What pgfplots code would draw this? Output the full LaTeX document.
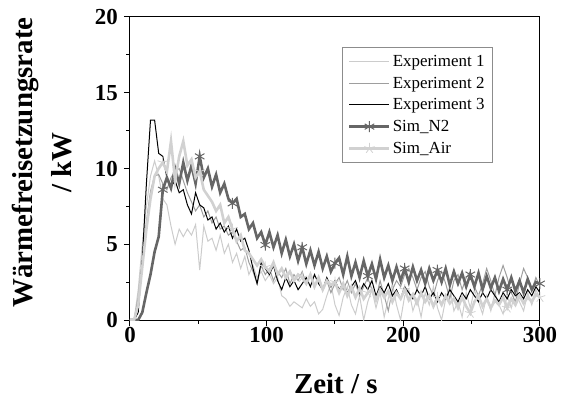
\documentclass[border=0pt]{standalone}
\usepackage{pgfplots}
\pgfplotsset{compat=1.18}
\usepackage{pgfplotstable}
\usepackage{fontspec}
\setmainfont{Liberation Serif}

\definecolor{expone}{gray}{0.80}
\definecolor{exptwo}{gray}{0.62}
\definecolor{expthree}{gray}{0.0}
\definecolor{simntwo}{gray}{0.40}
\definecolor{simair}{gray}{0.82}

% t [s], HRR [kW]
\pgfplotstableread{
t y
0 0
3 0
6 2
9 5
12 7.5
15 9.5
18 10.5
21 9.5
24 8.0
27 7.6
30 6.2
33 5.0
36 6.0
39 5.5
42 6.0
45 5.6
48 6.3
51 3.3
54 6.2
57 5.2
60 5.4
63 4.6
66 5.6
69 4.4
72 5.0
75 3.8
78 4.4
81 3.4
84 4.2
87 3.0
90 3.6
93 2.8
96 3.2
99 2.6
102 3.0
105 2.4
108 2.8
111 1.6
114 1.4
117 0.9
120 1.2
123 1.0
126 0.8
129 1.4
132 0.9
135 1.2
138 0.4
141 0.7
144 1.6
147 2.4
150 1.0
153 0.3
156 1.5
159 2.2
162 1.0
165 0.4
168 1.6
171 0.0
174 1.2
177 2.0
180 0.8
183 1.8
186 0.2
189 1.4
192 2.4
195 1.0
198 0.0
201 1.6
204 2.0
207 0.6
210 1.4
213 0.2
216 1.8
219 1.0
222 2.2
225 0.8
228 0.0
231 1.4
234 2.2
237 0.6
240 1.2
243 0.2
246 1.8
249 0.8
252 2.0
255 1.2
258 0.4
261 1.6
264 0.6
267 1.8
270 1.0
273 0.4
276 1.6
279 0.8
282 2.0
285 1.2
288 0.6
291 1.8
294 1.0
297 2.0
300 1.4
}\expone

\pgfplotstableread{
t y
0 0
3 0
6 1.5
9 4.0
12 6.5
15 8.5
18 9.5
21 9.6
24 9.0
27 8.6
30 9.4
33 9.8
36 10.0
39 9.2
42 8.4
45 7.8
48 7.2
51 7.6
54 6.8
57 7.2
60 6.4
63 6.8
66 6.0
69 6.2
72 5.6
75 5.8
78 5.2
81 4.6
84 4.8
87 3.8
90 3.2
93 2.4
96 3.6
99 3.0
102 3.4
105 2.6
108 3.2
111 2.8
114 3.4
117 2.4
120 3.0
123 2.6
126 3.2
129 2.4
132 3.0
135 2.2
138 2.8
141 2.0
144 2.6
147 1.8
150 2.4
153 2.8
156 2.0
159 2.6
162 1.8
165 2.4
168 1.6
171 2.2
174 2.8
177 2.0
180 1.4
183 2.6
186 1.6
189 0.6
192 2.0
195 2.6
198 2.2
201 3.0
204 3.4
207 2.8
210 2.0
213 2.8
216 3.2
219 2.2
222 1.6
225 2.6
228 3.2
231 2.4
234 1.4
237 2.6
240 3.0
243 2.0
246 2.8
249 3.2
252 2.2
255 1.6
258 2.4
261 3.4
264 2.6
267 1.6
270 2.8
273 3.6
276 2.8
279 1.8
282 1.2
285 2.4
288 3.4
291 2.8
294 2.0
297 2.8
300 2.2
}\exptwo

\pgfplotstableread{
t y
0 0
3 0
6 0.5
9 4
12 9
15 13.2
18 13.2
21 11.0
24 10.8
27 9.4
30 8.8
33 9.2
36 8.4
39 8.6
42 7.6
45 7.0
48 8.4
51 7.6
54 7.4
57 6.6
60 6.8
63 6.0
66 6.4
69 5.8
72 6.2
75 5.4
78 6.0
81 5.2
84 5.4
87 4.6
90 3.4
93 2.4
96 3.8
99 3.4
102 3.0
105 3.6
108 2.6
111 2.0
114 2.8
117 2.2
120 2.6
123 2.0
126 2.4
129 2.8
132 2.2
135 3.0
138 2.4
141 2.0
144 2.8
147 2.2
150 2.6
153 2.0
156 2.4
159 1.8
162 2.2
165 2.6
168 1.8
171 2.4
174 2.0
177 2.6
180 1.6
183 2.2
186 1.8
189 2.4
192 1.6
195 2.0
198 1.4
201 2.2
204 1.8
207 1.4
210 2.0
213 1.6
216 2.2
219 1.4
222 1.8
225 1.2
228 1.8
231 1.4
234 2.0
237 1.6
240 1.2
243 1.8
246 1.4
249 2.0
252 1.6
255 1.2
258 1.8
261 1.4
264 2.0
267 1.6
270 1.2
273 1.8
276 1.4
279 2.0
282 1.6
285 1.8
288 1.4
291 2.0
294 1.6
297 2.2
300 1.8
}\expthree

\pgfplotstableread{
t y
0 0
3 0
6 0
9 0.5
12 1.8
15 3.0
18 4.5
21 5.5
24 8.6
27 9.4
30 8.7
33 10.0
36 9.0
39 10.4
42 9.2
45 10.2
48 9.0
51 10.8
54 9.4
57 10.0
60 8.8
63 9.6
66 8.4
69 9.0
72 8.0
75 7.7
78 8.0
81 6.8
84 7.0
87 6.0
90 6.4
93 5.4
96 5.8
99 4.95
102 5.8
105 4.8
108 5.6
111 4.4
114 5.3
117 4.2
120 5.0
123 3.9
126 4.8
129 3.7
132 4.6
135 3.6
138 4.5
141 3.4
144 4.2
147 3.2
150 3.75
153 4.1
156 3.0
159 4.2
162 2.9
165 3.8
168 2.8
171 3.9
174 2.9
177 3.7
180 2.7
183 4.0
186 2.8
189 3.6
192 2.6
195 3.5
198 2.6
201 3.4
204 2.5
207 3.5
210 2.6
213 3.3
216 2.4
219 3.4
222 2.6
225 3.3
228 2.5
231 3.4
234 2.3
237 3.2
240 2.4
243 3.1
246 2.2
249 3.0
252 2.2
255 3.1
258 2.0
261 2.9
264 2.1
267 2.8
270 1.9
273 2.7
276 2.0
279 2.8
282 1.9
285 2.6
288 1.8
291 2.7
294 2.0
297 2.5
300 2.4
}\simntwo

\pgfplotstableread{
t y
0 0
3 0
6 1.0
9 3.5
12 6.0
15 8.0
18 9.5
21 10.0
24 10.4
27 9.8
30 11.8
33 9.2
36 10.8
39 11.8
42 10.2
45 10.6
48 9.4
51 9.8
54 8.6
57 8.2
60 7.8
63 7.2
66 7.6
69 6.4
72 6.8
75 6.0
78 5.2
81 5.6
84 4.6
87 4.4
90 4.0
93 3.6
96 4.0
99 3.5
102 3.2
105 3.8
108 3.0
111 3.4
114 2.8
117 3.2
120 2.6
123 3.0
126 2.8
129 2.4
132 3.0
135 2.2
138 2.8
141 2.0
144 2.6
147 2.3
150 2.5
153 1.8
156 2.4
159 1.6
162 2.2
165 1.5
168 2.1
171 1.4
174 1.8
177 2.0
180 1.3
183 2.0
186 1.5
189 1.9
192 1.2
195 1.8
198 1.4
201 2.0
204 1.3
207 1.7
210 1.1
213 1.8
216 1.2
219 1.6
222 0.9
225 1.5
228 1.0
231 1.6
234 1.1
237 1.4
240 0.8
243 1.5
246 0.9
249 0.45
252 1.2
255 1.6
258 0.9
261 1.4
264 0.8
267 1.3
270 1.0
273 1.5
276 0.8
279 1.4
282 1.0
285 1.6
288 1.1
291 1.5
294 1.2
297 1.7
300 1.5
}\simair

\begin{document}
\begin{tikzpicture}
\begin{axis}[
    scale only axis,
    width=410bp, height=303bp,
    xmin=0, xmax=300, ymin=0, ymax=20,
    xtick={0,100,200,300}, minor x tick num=1,
    ytick={0,5,10,15,20}, minor y tick num=1,
    tick align=outside, tick pos=left,
    major tick length=6bp, minor tick length=3.5bp,
    axis line style={line width=1bp},
    every tick/.style={black, line width=1bp},
    /pgf/number format/assume math mode=true,
    tick label style={font=\fontsize{23}{23}\selectfont\bfseries, inner sep=0pt},
    xticklabel style={yshift=-1bp},
    yticklabel style={xshift=-6bp},
    xlabel={Zeit / s},
    ylabel={Wärmefreisetzungsrate\\/ kW},
    label style={font=\fontsize{29}{39}\selectfont\bfseries},
    xlabel style={at={(axis description cs:0.502,0)}, anchor=base, yshift=-73bp},
    ylabel style={at={(axis description cs:-0.215,0.52)}, anchor=center, align=center},
    legend style={at={(0.517,0.901)}, anchor=north west, draw=black!45,
        font=\fontsize{17}{17}\selectfont, inner xsep=6bp, inner ysep=6bp,
        row sep=5bp, cells={anchor=west}},
    legend image code/.code={
        \draw[#1, mark indices={2}] plot coordinates {(0bp,0bp) (20bp,0bp) (40bp,0bp)};},
]
\addplot[expone, line width=1bp] table[x=t, y=y] {\expone};
\addlegendentry{Experiment 1}
\addplot[exptwo, line width=1bp] table[x=t, y=y] {\exptwo};
\addlegendentry{Experiment 2}
\addplot[expthree, line width=1bp] table[x=t, y=y] {\expthree};
\addlegendentry{Experiment 3}
\addplot[simntwo, line width=2.6bp, mark=asterisk, mark size=5.5bp,
    mark options={line width=1bp},
    mark indices={9,18,26,34,43,51,59,68,76,84,93,101}] table[x=t, y=y] {\simntwo};
\addlegendentry{Sim\_N2}
\addplot[simair, line width=2.6bp, mark=star, mark size=5.5bp,
    mark options={line width=0.8bp, fill=white},
    mark indices={9,18,26,34,43,51,59,68,76,84,93,101}] table[x=t, y=y] {\simair};
\addlegendentry{Sim\_Air}
\end{axis}
\pgfresetboundingbox
\path (-130bp,-77bp) rectangle (431bp,320bp);
\end{tikzpicture}
\end{document}
